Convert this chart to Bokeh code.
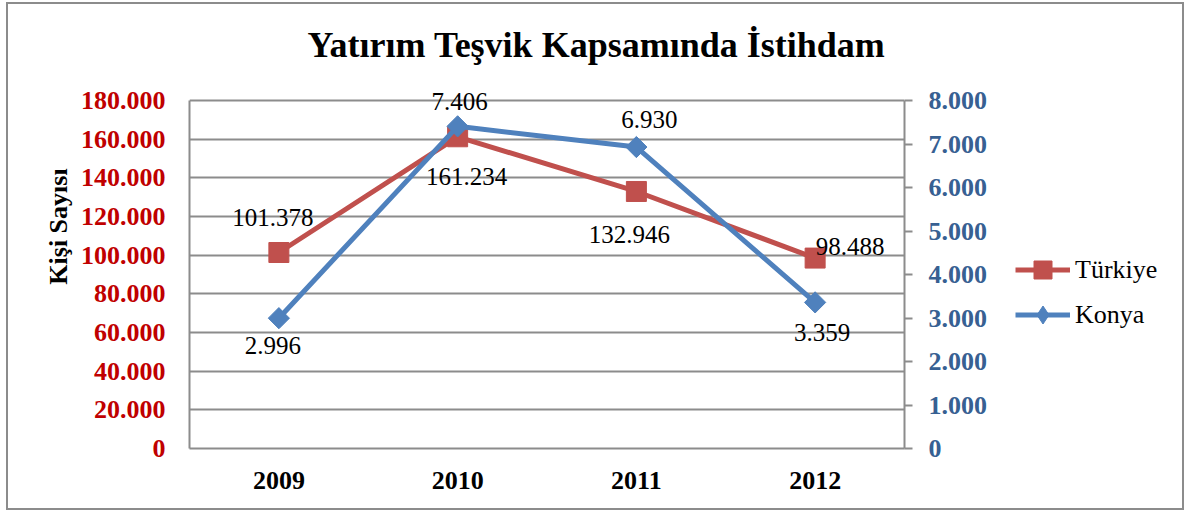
import numpy as np
from bokeh.plotting import figure
from bokeh.layouts import row
from bokeh.models import (ColumnDataSource, Range1d, FactorRange, LinearAxis,
                          SingleIntervalTicker, CustomJSTickFormatter, LabelSet,
                          Label, Legend, LegendItem)
from bokeh.core.properties import value
from bokeh.embed import file_html
from bokeh.resources import INLINE

# ---------------- data ----------------
years = ["2009", "2010", "2011", "2012"]
turkiye = [101378, 161234, 132946, 98488]
konya = [2996, 7406, 6930, 3359]
series_names = ["Türkiye", "Konya"]
title_text = "Yatırım Teşvik Kapsamında İstihdam"
y_title = "Kişi Sayısı"
left_max, left_step = 180000, 20000
right_max, right_step = 8000, 1000


def fmt(v):
    return f"{v:,}".replace(",", ".")


# ---------------- styling / geometry ----------------
RED = "#C0504D"
BLUE = "#4F81BD"
GRID = "#8c8c8c"
SERIF = "Liberation Serif"

CW, CH = 1174, 504          # total canvas size (inside border)
LEG_W = 182                 # legend strip width
PW = CW - LEG_W             # main plot width
F_LEFT, F_RIGHT = 181, 896  # frame x in canvas px
Y_TOP_TICK, F_BOTTOM = 96, 444  # pixel of left_max, pixel of 0
scale = (F_BOTTOM - Y_TOP_TICK) / F_BOTTOM
left_top = left_max / scale
right_top = right_max / scale

dot_fmt = CustomJSTickFormatter(
    code="return Math.round(tick).toString().replace(/\\B(?=(\\d{3})+(?!\\d))/g, '.');")

src = ColumnDataSource(dict(
    x=years, t=turkiye, k=konya,
    tl=[fmt(v) for v in turkiye], kl=[fmt(v) for v in konya],
    t_dx=[-6, 9, -7, 35], t_dy=[35, -40, -43, 12],
    k_dx=[-6, 2, 13, 7], k_dy=[-27, 25, 28, -30],
))

p = figure(width=PW, height=CH,
           x_range=FactorRange(factors=years),
           y_range=Range1d(0, left_top),
           output_backend="svg", toolbar_location=None,
           min_border_left=F_LEFT, min_border_right=PW - F_RIGHT,
           min_border_top=0, min_border_bottom=CH - F_BOTTOM,
           background_fill_color="white", border_fill_color="white",
           outline_line_color=None)
p.extra_y_ranges = {"right": Range1d(0, right_top)}

# grid
p.xgrid.grid_line_color = None
p.ygrid.grid_line_color = GRID
p.ygrid.grid_line_width = 2

# left axis
ya = p.yaxis[0]
ya.bounds = (0, left_max)
ya.ticker = SingleIntervalTicker(interval=left_step)
ya.formatter = dot_fmt
ya.major_tick_out = 0
ya.major_tick_in = 0
ya.minor_tick_out = 0
ya.minor_tick_in = 0
ya.axis_line_color = GRID
ya.axis_line_width = 2
ya.major_label_text_font = SERIF
ya.major_label_text_font_size = "26px"
ya.major_label_text_font_style = "bold"
ya.major_label_text_color = "#C00000"
ya.major_label_standoff = 24
ya.axis_label = y_title
ya.axis_label_text_font = SERIF
ya.axis_label_text_font_size = "26px"
ya.axis_label_text_font_style = "bold"
ya.axis_label_text_color = "black"
ya.axis_label_standoff = 5

# right axis
ra = LinearAxis(y_range_name="right", bounds=(0, right_max),
                ticker=SingleIntervalTicker(interval=right_step),
                formatter=dot_fmt)
ra.major_tick_out = 8
ra.major_tick_in = 0
ra.minor_tick_out = 0
ra.minor_tick_in = 0
ra.major_tick_line_color = GRID
ra.major_tick_line_width = 2
ra.axis_line_color = GRID
ra.axis_line_width = 2
ra.major_label_text_font = SERIF
ra.major_label_text_font_size = "26px"
ra.major_label_text_font_style = "bold"
ra.major_label_text_color = "#376092"
ra.major_label_standoff = 16
p.add_layout(ra, "right")

# x axis
xa = p.xaxis[0]
xa.major_tick_out = 0
xa.major_tick_in = 0
xa.axis_line_color = GRID
xa.axis_line_width = 2
xa.major_label_text_font = SERIF
xa.major_label_text_font_size = "26px"
xa.major_label_text_font_style = "bold"
xa.major_label_text_color = "black"
xa.major_label_standoff = 23

# series
line_kw = dict(line_width=5, line_join="round")
tsq_kw = dict(marker="square", size=20)
kdm_kw = dict(marker="square", angle=np.pi / 4, size=15)

p.line("x", "t", source=src, line_color=RED, **line_kw)
p.scatter("x", "t", source=src, fill_color=RED, line_color=RED, **tsq_kw)
p.line("x", "k", source=src, y_range_name="right", line_color=BLUE, **line_kw)
p.scatter("x", "k", source=src, y_range_name="right", fill_color=BLUE,
          line_color=BLUE, **kdm_kw)

# data labels
lab_common = dict(text_font=value(SERIF), text_font_size="25px",
                  text_color="black", text_align="center",
                  text_baseline="middle")
p.add_layout(LabelSet(x="x", y="t", text="tl", x_offset="t_dx", y_offset="t_dy",
                      source=src, **lab_common))
p.add_layout(LabelSet(x="x", y="k", text="kl", x_offset="k_dx", y_offset="k_dy",
                      y_range_name="right", source=src, **lab_common))

# title (inside the tall frame, above the plot area)
p.add_layout(Label(x=407, y=404, x_units="screen", y_units="screen",
                   text=title_text, text_font=SERIF,
                   text_font_size="36px", text_font_style="bold",
                   text_align="center", text_baseline="middle",
                   text_color="black"))

# ---------------- legend strip ----------------
p2 = figure(width=LEG_W, height=CH, x_range=FactorRange(factors=years),
            output_backend="svg", toolbar_location=None,
            x_axis_location=None, y_axis_location=None,
            min_border_left=0, min_border_right=0, min_border_top=0,
            min_border_bottom=0, outline_line_color=None,
            background_fill_color="white", border_fill_color="white")
p2.grid.visible = False
l_t = p2.line("x", "t", source=src, line_color=RED, visible=False, **line_kw)
s_t = p2.scatter("x", "t", source=src, fill_color=RED, line_color=RED,
                 visible=False, **tsq_kw)
l_k = p2.line("x", "k", source=src, line_color=BLUE, visible=False, **line_kw)
s_k = p2.scatter("x", "k", source=src, fill_color=BLUE, line_color=BLUE,
                 visible=False, marker="diamond", size=20)

legend = Legend(items=[LegendItem(label=series_names[0], renderers=[l_t, s_t]),
                       LegendItem(label=series_names[1], renderers=[l_k, s_k])],
                location=(15, 111), orientation="vertical",
                glyph_width=55, glyph_height=45, label_height=45,
                spacing=0, padding=0, margin=0, label_standoff=5,
                label_text_font=SERIF, label_text_font_size="26px",
                label_text_color="black",
                border_line_color=None, background_fill_alpha=0)
p2.add_layout(legend, "center")

lay = row(p, p2, styles={"border": "2px solid #8c8c8c", "margin-left": "6px",
                         "margin-top": "2px"})

open("out.html", "w").write(file_html(lay, INLINE))
